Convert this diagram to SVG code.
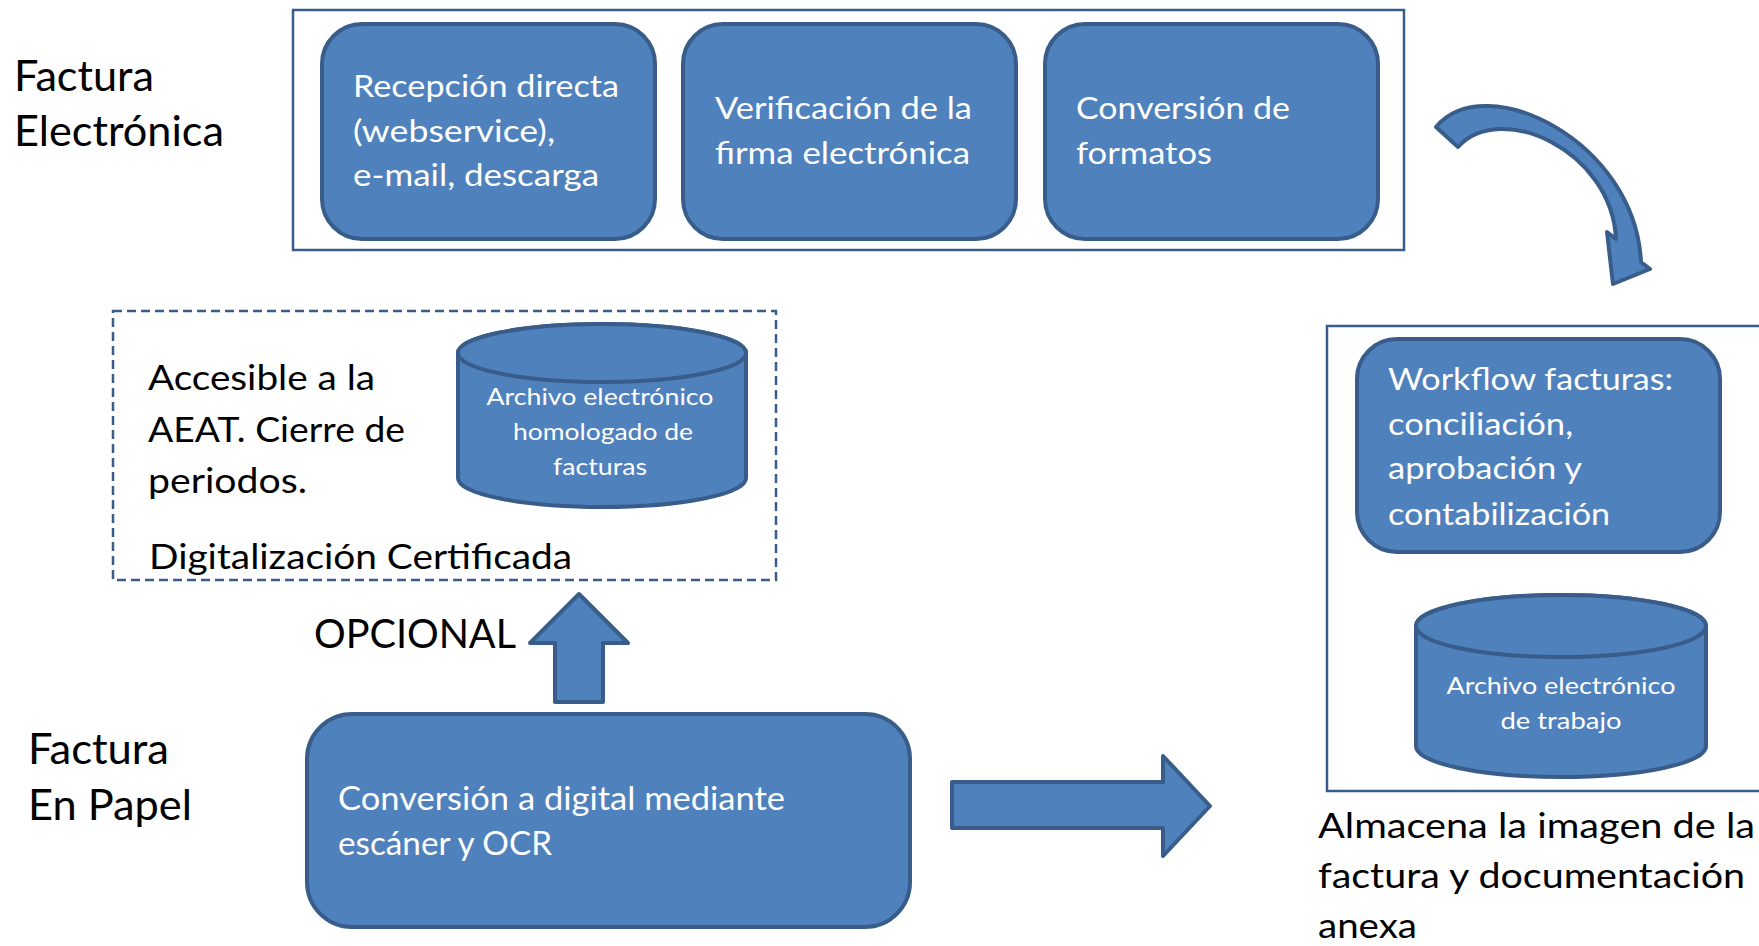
<svg xmlns="http://www.w3.org/2000/svg" width="1759" height="946" viewBox="0 0 1759 946">
<style>
.frame{fill:none;stroke:#385D8A;stroke-width:2.5}
.dash{fill:none;stroke:#385D8A;stroke-width:2.5;stroke-dasharray:9 5}
.shape{fill:#4F81BD;stroke:#385D8A;stroke-width:4;stroke-linejoin:round}
.wt{font-family:Lato,"Open Sans",sans-serif;fill:#FFFFFF}
.bt{font-family:Lato,"Open Sans",sans-serif;fill:#000000}
</style>
<rect width="1759" height="946" fill="#FFFFFF"/>
<g id="labels">
<text class="bt" font-size="43" x="14" y="91" textLength="140" lengthAdjust="spacingAndGlyphs">Factura</text>
<text class="bt" font-size="43" x="14" y="146" textLength="210" lengthAdjust="spacingAndGlyphs">Electrónica</text>
<text class="bt" font-size="43" x="28" y="764" textLength="141" lengthAdjust="spacingAndGlyphs">Factura</text>
<text class="bt" font-size="43" x="28" y="820" textLength="164" lengthAdjust="spacingAndGlyphs">En Papel</text>
<text class="bt" font-size="41" x="314" y="648" textLength="202" lengthAdjust="spacingAndGlyphs">OPCIONAL</text>
</g>
<g id="electronic-frame">
<rect class="frame" x="293" y="10" width="1111" height="240"/>
</g>
<g id="recepcion">
<rect class="shape" x="322" y="24" width="333" height="215" rx="40" ry="40"/>
<text class="wt" font-size="30" x="353" y="97" textLength="266" lengthAdjust="spacingAndGlyphs">Recepción directa</text>
<text class="wt" font-size="30" x="353" y="142" textLength="202" lengthAdjust="spacingAndGlyphs">(webservice),</text>
<text class="wt" font-size="30" x="353" y="186" textLength="246" lengthAdjust="spacingAndGlyphs">e-mail, descarga</text>
</g>
<g id="verificacion">
<rect class="shape" x="683" y="24" width="333" height="215" rx="40" ry="40"/>
<text class="wt" font-size="30" x="715" y="119" textLength="257" lengthAdjust="spacingAndGlyphs">Verificación de la</text>
<text class="wt" font-size="30" x="715" y="164" textLength="255" lengthAdjust="spacingAndGlyphs">firma electrónica</text>
</g>
<g id="conversion-formatos">
<rect class="shape" x="1045" y="24" width="333" height="215" rx="40" ry="40"/>
<text class="wt" font-size="30" x="1076" y="119" textLength="214" lengthAdjust="spacingAndGlyphs">Conversión de</text>
<text class="wt" font-size="30" x="1076" y="164" textLength="136" lengthAdjust="spacingAndGlyphs">formatos</text>
</g>
<g id="digitalizacion-certificada">
<rect class="dash" x="113" y="311" width="663" height="269"/>
<text class="bt" font-size="35" x="148" y="390" textLength="227" lengthAdjust="spacingAndGlyphs">Accesible a la</text>
<text class="bt" font-size="35" x="148" y="442" textLength="257" lengthAdjust="spacingAndGlyphs">AEAT. Cierre de</text>
<text class="bt" font-size="35" x="148" y="493" textLength="159" lengthAdjust="spacingAndGlyphs">periodos.</text>
<text class="bt" font-size="34" x="149" y="569" textLength="423" lengthAdjust="spacingAndGlyphs">Digitalización Certificada</text>
</g>
<g id="archivo-homologado">
<path class="shape" d="M458,353 A144,29 0 0 1 746,353 V478 A144,29 0 0 1 458,478 Z"/>
<ellipse class="shape" cx="602" cy="353" rx="144" ry="29"/>
<text class="wt" font-size="24" x="600" y="405" text-anchor="middle" textLength="227" lengthAdjust="spacingAndGlyphs">Archivo electrónico</text>
<text class="wt" font-size="24" x="603" y="440" text-anchor="middle" textLength="180" lengthAdjust="spacingAndGlyphs">homologado de</text>
<text class="wt" font-size="24" x="600" y="475" text-anchor="middle" textLength="94" lengthAdjust="spacingAndGlyphs">facturas</text>
</g>
<g id="conversion-digital">
<rect class="shape" x="307" y="714" width="603" height="213" rx="45" ry="45"/>
<text class="wt" font-size="32" x="338" y="810" textLength="447" lengthAdjust="spacingAndGlyphs">Conversión a digital mediante</text>
<text class="wt" font-size="32" x="338" y="855" textLength="214" lengthAdjust="spacingAndGlyphs">escáner y OCR</text>
</g>
<g id="work-frame">
<rect class="frame" x="1327" y="326" width="450" height="465"/>
</g>
<g id="workflow">
<rect class="shape" x="1357" y="339" width="363" height="213" rx="40" ry="40"/>
<text class="wt" font-size="31" x="1388" y="390" textLength="285" lengthAdjust="spacingAndGlyphs">Workflow facturas:</text>
<text class="wt" font-size="31" x="1388" y="435" textLength="185" lengthAdjust="spacingAndGlyphs">conciliación,</text>
<text class="wt" font-size="31" x="1388" y="479" textLength="194" lengthAdjust="spacingAndGlyphs">aprobación y</text>
<text class="wt" font-size="31" x="1388" y="525" textLength="222" lengthAdjust="spacingAndGlyphs">contabilización</text>
</g>
<g id="archivo-trabajo">
<path class="shape" d="M1416,626 A145,31 0 0 1 1706,626 V746 A145,31 0 0 1 1416,746 Z"/>
<ellipse class="shape" cx="1561" cy="626" rx="145" ry="31"/>
<text class="wt" font-size="24" x="1561" y="694" text-anchor="middle" textLength="229" lengthAdjust="spacingAndGlyphs">Archivo electrónico</text>
<text class="wt" font-size="24" x="1561" y="729" text-anchor="middle" textLength="121" lengthAdjust="spacingAndGlyphs">de trabajo</text>
</g>
<g id="almacena-label">
<text class="bt" font-size="34" x="1318" y="838" textLength="437" lengthAdjust="spacingAndGlyphs">Almacena la imagen de la</text>
<text class="bt" font-size="34" x="1318" y="888" textLength="427" lengthAdjust="spacingAndGlyphs">factura y documentación</text>
<text class="bt" font-size="34" x="1318" y="938" textLength="99" lengthAdjust="spacingAndGlyphs">anexa</text>
</g>
<g id="connectors">
<path class="shape" d="M1436,127 C1485,68 1635,140 1641,262 L1650,269 L1613,284 L1607,232 L1616,239 C1612,150 1500,100 1458,147 Z"/>
<polygon class="shape" points="579,594 628,643 603,643 603,702 555,702 555,643 530,643"/>
<polygon class="shape" points="952,782 1163,782 1163,756 1210,806 1163,856 1163,828 952,828"/>
</g>
</svg>
